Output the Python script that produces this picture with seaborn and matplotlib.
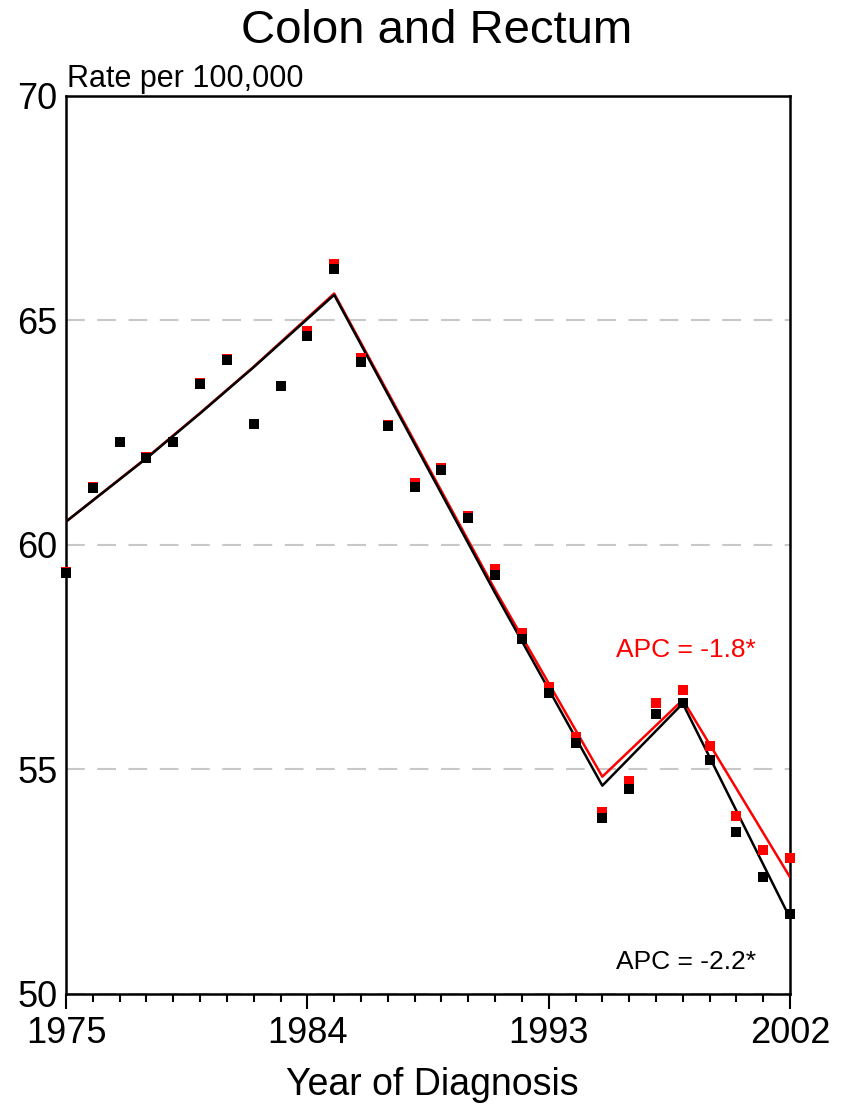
import matplotlib
matplotlib.use("Agg")
import matplotlib.pyplot as plt
import seaborn as sns
from matplotlib.ticker import MultipleLocator

# ---------- data ----------
years = list(range(1975, 2003))

observed = [59.38, 61.27, 62.29, 61.94, 62.29, 63.59, 64.13, 62.69, 63.54, 64.66,
            66.15, 64.07, 62.65, 61.30, 61.66, 60.60, 59.33, 57.90, 56.71, 55.58,
            53.91, 54.56, 56.23, 56.47, 55.21, 53.61, 52.61, 51.78]

delay_adjusted = [59.40, 61.28, 62.30, 61.95, 62.30, 63.60, 64.14, 62.70, 63.55, 64.77,
                  66.25, 64.17, 62.68, 61.38, 61.71, 60.65, 59.46, 58.04, 56.84, 55.72,
                  54.05, 54.74, 56.47, 56.76, 55.52, 53.97, 53.21, 53.02]

# joinpoint fitted values (read at the visible bends)
fit_years = [1975, 1978, 1980, 1982, 1985, 1991, 1995, 1998, 2002]
fit_observed = [60.52, 61.93, 62.93, 63.96, 65.57, 58.93, 54.64, 56.47, 51.69]
fit_adjusted = [60.52, 61.94, 62.94, 63.97, 65.60, 59.00, 54.84, 56.55, 52.60]

major_years = [1975, 1984, 1993, 2002]
y_ticks = [50, 55, 60, 65, 70]
apc_adjusted = "APC = -1.8*"
apc_observed = "APC = -2.2*"

# ---------- style ----------
sns.set_style("white")
plt.rcParams["font.family"] = ["Liberation Sans", "DejaVu Sans"]
plt.rcParams["text.color"] = "black"
plt.rcParams["xtick.color"] = "black"
plt.rcParams["ytick.color"] = "black"

fig = plt.figure(figsize=(8.42, 11.08), dpi=100)
ax = fig.add_axes([0.0784, 0.1029, 0.8599, 0.8105])

# ---------- lines & points ----------
sns.lineplot(x=fit_years, y=fit_adjusted, color="#ff0000", linewidth=1.8, ax=ax, zorder=3)
sns.lineplot(x=fit_years, y=fit_observed, color="black", linewidth=1.8, ax=ax, zorder=4)
sns.scatterplot(x=years, y=delay_adjusted, color="#ff0000", marker="s", s=42,
                linewidth=0, ax=ax, zorder=5, clip_on=False)
sns.scatterplot(x=years, y=observed, color="black", marker="s", s=42,
                linewidth=0, ax=ax, zorder=6, clip_on=False)

# ---------- axes ----------
ax.set_xlim(1975, 2002)
ax.set_ylim(50, 70)
ax.set_xticks(major_years)
ax.set_xticklabels([str(y) for y in major_years], fontsize=26)
ax.xaxis.set_minor_locator(MultipleLocator(1))
ax.set_yticks(y_ticks)
ax.set_yticklabels([str(v) for v in y_ticks], fontsize=26)

ax.tick_params(axis="x", which="both", bottom=True, top=False)
ax.tick_params(axis="x", which="major", direction="out", length=11, width=1.5, pad=5)
ax.tick_params(axis="x", which="minor", direction="out", length=6, width=1.5)
ax.tick_params(axis="y", which="both", left=False, length=0, pad=6)

for side in ["left", "right", "top", "bottom"]:
    ax.spines[side].set_visible(True)
    ax.spines[side].set_color("black")
    ax.spines[side].set_linewidth(1.8)

ax.grid(axis="y", color="#c8c8c8", linewidth=1.5, linestyle=(0, (9, 6)))
ax.grid(axis="x", visible=False)
ax.set_axisbelow(True)

ax.set_xlabel("")
ax.set_ylabel("")

# ---------- text ----------
ax.text(0.002, 1.002, "Rate per 100,000", transform=ax.transAxes,
        ha="left", va="bottom", fontsize=22)
ax.text(1995.5, 57.66, apc_adjusted, color="#ff0000", ha="left", va="center", fontsize=19)
ax.text(1995.5, 50.71, apc_observed, color="black", ha="left", va="center", fontsize=19)

fig.text(0.519, 0.972, "Colon and Rectum", ha="center", va="center", fontsize=34)
fig.text(0.514, 0.021, "Year of Diagnosis", ha="center", va="center", fontsize=27)

fig.savefig("out.png", dpi=100)
